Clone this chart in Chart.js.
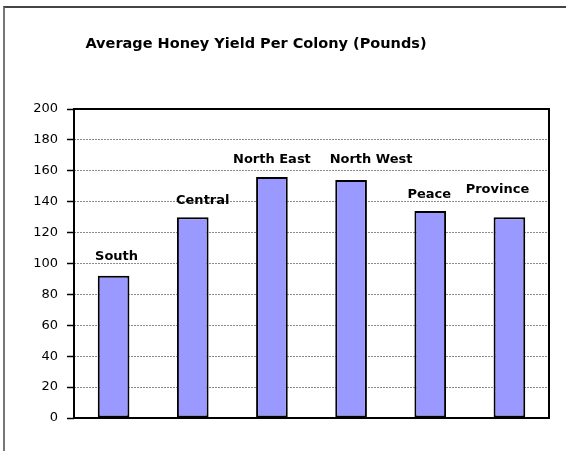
<!DOCTYPE html>
<html>
<head>
<meta charset="utf-8">
<script src="https://cdn.jsdelivr.net/npm/chart.js@4"></script>
<style>
  body { margin: 0; background: #fff; overflow: hidden; }
  #wrap { position: relative; width: 566px; height: 451px; }
  #frame {
    position: absolute; left: 3px; top: 6px; width: 700px; height: 600px;
    border-top: 2px solid #444; border-left: 2px solid #777; pointer-events: none;
  }
</style>
</head>
<body>
<div id="wrap">
  <canvas id="myChart" width="566" height="451"></canvas>
  <div id="frame"></div>
</div>
<script>
let categories = ["South", "Central", "North East", "North West", "Peace", "Province"];
let yields = [92, 130, 156, 154, 134, 130];
let yMin = 0;
let yMax = 200;
let yStep = 20;
let chartTitle = "Average Honey Yield Per Colony (Pounds)";

// where each category label sits relative to the top of its bar
let labelShift = [
  { dx: 3, dy: -19 },
  { dx: 10, dy: -17 },
  { dx: 0, dy: -17 },
  { dx: 20, dy: -20 },
  { dx: -1, dy: -16 },
  { dx: -12, dy: -28 },
];

let labelFont = "bold 13px 'Comic Sans MS', 'DejaVu Sans', sans-serif";

let extras = {
  id: "extras",
  afterDatasetsDraw(chart) {
    let ctx = chart.ctx;
    let area = chart.chartArea;
    ctx.save();
    // plot frame
    ctx.strokeStyle = "#000";
    ctx.lineWidth = 2;
    ctx.strokeRect(area.left, area.top, area.right - area.left, area.bottom - area.top);

    // category labels over the bars
    let meta = chart.getDatasetMeta(0);
    ctx.fillStyle = "#000";
    ctx.font = labelFont;
    ctx.textAlign = "center";
    ctx.textBaseline = "middle";
    for (let i = 0; i < meta.data.length; i++) {
      let bar = meta.data[i];
      let s = labelShift[i];
      ctx.fillText(categories[i], bar.x + s.dx, bar.y + s.dy);
    }

    // title
    ctx.font = "bold 14.5px 'Comic Sans MS', 'DejaVu Sans', sans-serif";
    ctx.fillText(chartTitle, 256, 44);
    ctx.restore();
  },
};

let ctx = document.getElementById("myChart").getContext("2d");
let chart = new Chart(ctx, {
  type: "bar",
  data: {
    labels: categories,
    datasets: [
      {
        data: yields,
        backgroundColor: "#9999FF",
        borderColor: "#000",
        borderWidth: 2,
        borderSkipped: false,
        barPercentage: 0.4,
        categoryPercentage: 1,
      },
    ],
  },
  options: {
    responsive: false,
    animation: false,
    layout: {
      padding: { left: 0, top: 109, right: 17, bottom: 33 },
    },
    plugins: {
      legend: { display: false },
      tooltip: { enabled: false },
      title: { display: false },
    },
    scales: {
      x: {
        display: false,
      },
      y: {
        min: yMin,
        max: yMax,
        afterFit(scale) {
          scale.width = 74;
        },
        ticks: {
          stepSize: yStep,
          color: "#000",
          padding: 9,
          font: { family: "'DejaVu Sans', Verdana, sans-serif", size: 13 },
        },
        grid: {
          color: "#8a8a8a",
          lineWidth: 1,
          tickLength: 7,
          tickColor: "#000",
          tickWidth: 1.5,
          tickBorderDash: [],
        },
        border: {
          display: false,
          dash: [2, 1],
        },
      },
    },
  },
  plugins: [extras],
});
</script>
</body>
</html>
